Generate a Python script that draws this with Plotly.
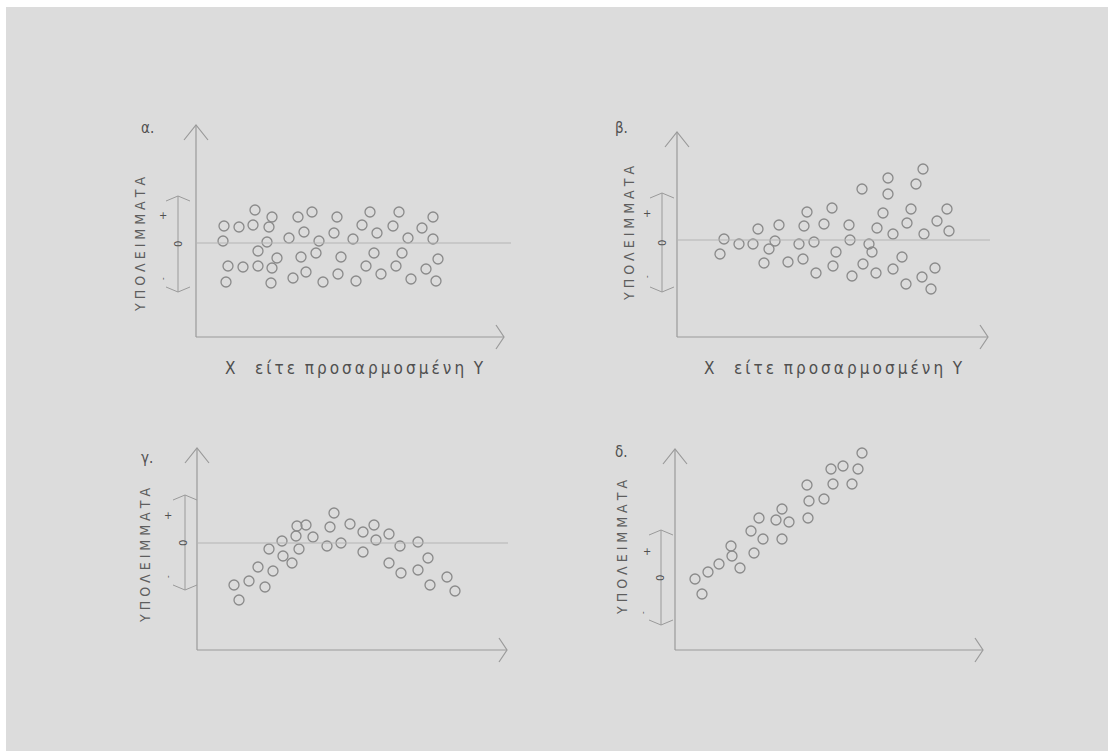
import plotly.graph_objects as go

W, H = 1108, 751
U = 10.0  # pixels per data unit on both axes of every panel

# ---- data: (fitted value / X, residual) for the four residual patterns ----
# α. constant band of residuals
a_x = [5.9, 7.6, 10.2, 11.6, 14.1, 17.4, 20.3, 23.7, 2.8, 4.3, 5.7, 7.3, 16.6, 19.7, 22.6,
       10.8, 13.8, 18.1, 9.3, 2.7, 7.1, 12.3, 15.7, 21.2, 23.7, 6.2, 12.0, 17.8, 20.6, 8.1,
       10.5, 14.5, 24.2, 3.2, 4.7, 6.2, 7.6, 17.0, 20.0, 23.0, 11.0, 14.2, 18.5, 3.0, 7.5,
       9.7, 12.7, 16.0, 21.5, 24.0]
a_y = [3.3, 2.6, 2.6, 3.1, 2.6, 3.1, 3.1, 2.6, 1.7, 1.6, 1.8, 1.6, 1.8, 1.7, 1.5,
       1.1, 1.0, 1.0, 0.5, 0.2, 0.1, 0.2, 0.4, 0.5, 0.4, -0.8, -1.0, -1.0, -1.0, -1.5,
       -1.4, -1.4, -1.6, -2.3, -2.4, -2.3, -2.5, -2.3, -2.3, -2.6, -2.9, -3.1, -3.1, -3.9, -4.0,
       -3.5, -3.9, -3.8, -3.6, -3.8]

# β. funnel: spread grows with X
b_x = [24.6, 21.1, 23.9, 18.5, 21.1, 15.5, 13.0, 23.4, 27.0, 20.6, 10.2, 12.7, 14.7, 17.2,
       23.0, 26.0, 8.1, 20.0, 27.2, 21.6, 24.7, 4.7, 6.2, 7.6, 9.8, 9.2, 12.2, 13.7, 17.3,
       19.2, 19.5, 15.9, 4.3, 8.7, 11.1, 12.6, 15.6, 18.6, 22.5, 13.9, 17.5, 19.9, 21.6,
       25.8, 24.5, 22.9, 25.4]
b_y = [7.1, 6.2, 5.6, 5.1, 4.6, 3.2, 2.8, 3.1, 3.1, 2.7, 1.5, 1.4, 1.6, 1.5,
       1.7, 1.9, 1.1, 1.2, 0.9, 0.6, 0.6, 0.1, -0.4, -0.4, -0.1, -0.9, -0.4, -0.2, 0.0,
       -0.4, -1.2, -1.2, -1.4, -2.3, -2.2, -1.9, -2.6, -2.4, -1.7, -3.3, -3.6, -3.3, -2.9,
       -2.8, -3.7, -4.4, -4.9]

# γ. curvature: arch-shaped residuals
c_x = [13.7, 10.0, 10.9, 13.3, 15.3, 17.7, 16.6, 19.2, 8.5, 9.9, 11.6, 17.9, 7.2, 10.2,
       13.0, 14.4, 16.6, 20.3, 22.1, 8.6, 6.1, 9.5, 7.6, 19.2, 23.1, 20.4, 22.1, 5.2, 3.7,
       6.8, 23.3, 25.0, 25.8, 4.2]
c_y = [3.0, 1.7, 1.8, 1.6, 1.9, 1.8, 1.1, 0.9, 0.2, 0.7, 0.6, 0.3, -0.6, -0.6,
       -0.3, 0.0, -0.9, -0.3, 0.1, -1.3, -2.4, -2.0, -2.8, -2.0, -1.5, -3.0, -2.7, -3.8, -4.2,
       -4.4, -4.2, -3.4, -4.8, -5.7]

# δ. linear trend left in the residuals
d_x = [18.7, 15.6, 16.8, 18.3, 13.2, 15.8, 17.7, 13.4, 14.9, 10.7, 8.4, 10.1, 11.4, 13.3,
       7.6, 8.8, 10.7, 5.6, 5.7, 7.9, 4.4, 3.3, 6.5, 2.0, 2.7]
d_y = [12.5, 10.9, 11.2, 10.9, 9.3, 9.4, 9.4, 7.7, 7.9, 6.9, 6.0, 5.8, 5.6, 6.0,
       4.7, 3.9, 3.9, 3.2, 2.2, 2.5, 1.4, 0.6, 1.0, -0.1, -1.6]

panel_letters = ["α.", "β.", "γ.", "δ."]
y_title = "ΥΠΟΛΕΙΜΜΑΤΑ"
x_title_words = ["Χ", "είτε", "προσαρμοσμένη", "Υ"]

# ---- panel geometry (pixels on the page) ----
panels = [
    dict(ox=196, oy=337, zero=243, tipx=504, tipy=125, brx=178, brtop=196, brbot=292,
         zero_end=511, ylab=(140, 245), letter=(147, 128), xlab=(354, 368),
         plus=(163, 216), nil=(178, 244), minus=(163, 279)),
    dict(ox=677, oy=337, zero=240, tipx=988, tipy=132, brx=662, brtop=193, brbot=292,
         zero_end=990, ylab=(629, 234), letter=(621, 128), xlab=(833, 368),
         plus=(647, 213), nil=(662, 243), minus=(647, 277)),
    dict(ox=197, oy=650, zero=543, tipx=507, tipy=448, brx=185, brtop=495, brbot=590,
         zero_end=508, ylab=(145, 556), letter=(147, 458), xlab=None,
         plus=(168, 515), nil=(183, 543), minus=(168, 577)),
    dict(ox=675, oy=650, zero=578, tipx=983, tipy=449, brx=661, brtop=530, brbot=625,
         zero_end=None, ylab=(622, 548), letter=(621, 452), xlab=None,
         plus=(647, 551), nil=(660, 578), minus=(643, 613)),
]
series = [(a_x, a_y), (b_x, b_y), (c_x, c_y), (d_x, d_y)]

BG = "#dcdcdc"
AXIS = "#9a9a9a"
ZERO = "#b4b4b4"
MARK = "#8a8a8a"
TEXT = "#5e5e5e"
DARK = "#505050"
FONT = "DejaVu Sans Condensed, Liberation Sans Narrow, DejaVu Sans, sans-serif"
THIN = "\u2009"
NB = "\u00a0"

fig = go.Figure()
layout = dict(
    width=W, height=H, margin=dict(l=0, r=0, t=0, b=0),
    paper_bgcolor=BG, plot_bgcolor="rgba(0,0,0,0)", showlegend=False,
)
shapes = []
annotations = []


def note(text, pos, size, angle=0, color=TEXT):
    annotations.append(dict(text=text, x=pos[0] / W, y=1 - pos[1] / H, xref="paper", yref="paper",
                            showarrow=False, textangle=angle, xanchor="center", yanchor="middle",
                            font=dict(family=FONT, size=size, color=color)))


# x title: letters spread with thin spaces, wider gaps between the words
w = [THIN.join(t) for t in x_title_words]
x_title = w[0] + NB * 4 + w[1] + NB * 2 + w[2] + NB * 2 + w[3]

for i, (p, (xs, ys)) in enumerate(zip(panels, series)):
    n = "" if i == 0 else str(i + 1)
    xr, yr = "x" + n, "y" + n

    def dx(px, p=p):
        return (px - p["ox"]) / U

    def dy(py, p=p):
        return (p["zero"] - py) / U

    left, right = p["ox"] - 65, p["tipx"] + 15
    top, bottom = p["tipy"] - 12, p["oy"] + 15
    layout["xaxis" + n] = dict(domain=[left / W, right / W], range=[dx(left), dx(right)],
                               visible=False, fixedrange=True)
    layout["yaxis" + n] = dict(domain=[1 - bottom / H, 1 - top / H], range=[dy(bottom), dy(top)],
                               visible=False, fixedrange=True)

    fig.add_trace(go.Scatter(
        x=xs, y=ys, xaxis=xr, yaxis=yr, mode="markers", hoverinfo="skip",
        marker=dict(symbol="circle-open", size=10, color=MARK, line=dict(width=1.3, color=MARK)),
    ))

    ax_y = dy(p["oy"])
    x_tip, y_tip = dx(p["tipx"]), dy(p["tipy"])
    line = dict(color=AXIS, width=1.2)
    # axes with open arrowheads
    shapes.append(dict(type="line", xref=xr, yref=yr, x0=0, y0=ax_y, x1=x_tip, y1=ax_y, line=line))
    shapes.append(dict(type="line", xref=xr, yref=yr, x0=0, y0=ax_y, x1=0, y1=y_tip, line=line))
    shapes.append(dict(type="path", xref=xr, yref=yr, line=line,
                       path=f"M {-1.2},{y_tip - 1.5} L 0,{y_tip} L {1.2},{y_tip - 1.5}"))
    shapes.append(dict(type="path", xref=xr, yref=yr, line=line,
                       path=f"M {x_tip - 0.8},{ax_y + 1.2} L {x_tip},{ax_y} L {x_tip - 0.8},{ax_y - 1.2}"))
    # zero reference line
    if p["zero_end"] is not None:
        shapes.append(dict(type="line", xref=xr, yref=yr, x0=0, y0=0, x1=dx(p["zero_end"]), y1=0,
                           line=dict(color=ZERO, width=1)))
    # double-headed bracket marking the residual band
    bx, bt, bb = dx(p["brx"]), dy(p["brtop"]), dy(p["brbot"])
    bl = dict(color=AXIS, width=1)
    shapes.append(dict(type="line", xref=xr, yref=yr, x0=bx, y0=bb, x1=bx, y1=bt, line=bl))
    shapes.append(dict(type="path", xref=xr, yref=yr, line=bl,
                       path=f"M {bx - 1.2},{bt - 0.5} L {bx},{bt} L {bx + 1.2},{bt - 0.5}"))
    shapes.append(dict(type="path", xref=xr, yref=yr, line=bl,
                       path=f"M {bx - 1.2},{bb + 0.5} L {bx},{bb} L {bx + 1.2},{bb + 0.5}"))

    note(" ".join(y_title), p["ylab"], 14, angle=-90)
    note(panel_letters[i], p["letter"], 15, color=DARK)
    note("+", p["plus"], 11, color=DARK)
    note("0", p["nil"], 11, angle=-90, color=DARK)
    note("-", p["minus"], 8, angle=-90, color=DARK)
    if p["xlab"] is not None:
        note(x_title, p["xlab"], 17, color=DARK)

# white page edge along the top and left
shapes.append(dict(type="rect", xref="paper", yref="paper", x0=0, x1=1, y0=1 - 7 / H, y1=1,
                   fillcolor="white", line=dict(width=0), layer="below"))
shapes.append(dict(type="rect", xref="paper", yref="paper", x0=0, x1=6 / W, y0=0, y1=1,
                   fillcolor="white", line=dict(width=0), layer="below"))

layout["shapes"] = shapes
layout["annotations"] = annotations
fig.update_layout(**layout)
fig.write_html("out.html")
